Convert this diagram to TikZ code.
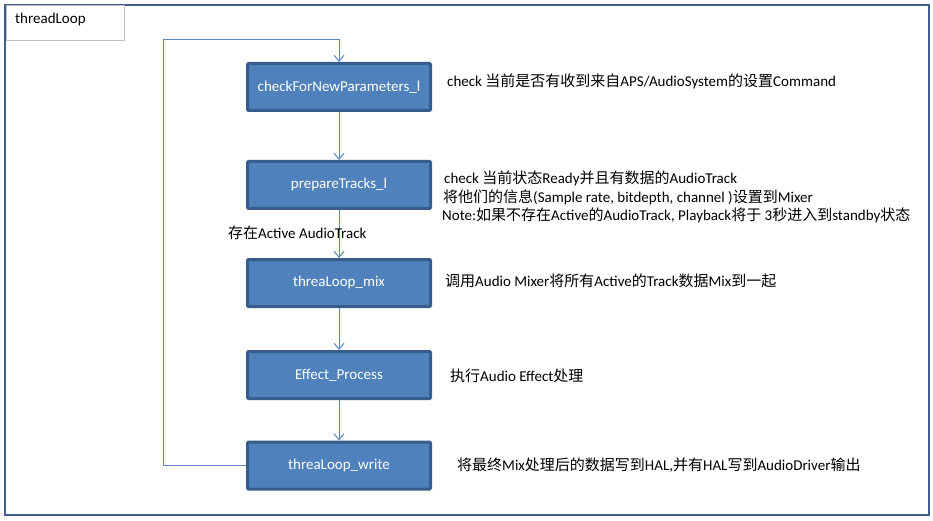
\documentclass[tikz,border=0pt]{standalone}
\usepackage{fontspec}
\setmainfont{Carlito}
\newfontfamily\cjk{Noto Sans CJK SC}
\newcommand\zh[1]{{\cjk #1}}
\usetikzlibrary{arrows.meta}
\definecolor{frame}{HTML}{3F5E8E}
\definecolor{boxfill}{HTML}{4F81BD}
\definecolor{boxline}{HTML}{385D8A}
\definecolor{conn}{HTML}{5B86C0}
\definecolor{lblline}{HTML}{BFBFBF}
\tikzset{
  stepbox/.style={draw=boxline, line width=3pt, fill=boxfill, text=white,
    minimum width=183pt, minimum height=47pt, inner sep=0pt,
    font=\fontsize{15}{18}\selectfont, rounded corners=1pt},
  note/.style={anchor=west, inner sep=0pt, text=black, font=\fontsize{15}{18}\selectfont},
  conline/.style={draw=conn, line width=1pt},
  arr/.style={conline, -{Straight Barb[length=6pt,width=10pt,line width=1pt]}},
}
\begin{document}
\begin{tikzpicture}[x=1pt,y=-1pt]
\useasboundingbox (0,0) rectangle (933,521);
\fill[white] (0,0) rectangle (933,521);
\draw[frame, line width=2.5pt] (5,5) rectangle (929,515);
\draw[lblline, line width=1pt] (6,6) rectangle (124,41);
\node[note, anchor=base west] (title) at (15,24) {threadLoop};

\node[stepbox] (b1) at (339,87) {checkForNewParameters\_l};
\node[stepbox] (b2) at (339,185) {prepareTracks\_l};
\node[stepbox] (b3) at (339,283) {threaLoop\_mix};
\node[stepbox] (b4) at (339,375) {Effect\_Process};
\node[stepbox] (b5) at (339,465.5) {threaLoop\_write};

\draw[arr] (b1.south) -- (b2.north);
\draw[arr] (b2.south) -- (b3.north);
\draw[arr] (b3.south) -- (b4.north);
\draw[arr] (b4.south) -- (b5.north);
\coordinate (lc) at (163,40);
\draw[arr] (b5.west) -| (lc) -| (b1.north);

\node[note] (t1) at (447,81) {check \zh{当前是否有收到来自}APS/AudioSystem\zh{的设置}Command};
\node[note] (t2a) at (444,178) {check \zh{当前状态}Ready\zh{并且有数据的}AudioTrack};
\node[note] (t2b) at (443,197) {\zh{将他们的信息}(Sample rate, bitdepth, channel )\zh{设置到}Mixer};
\node[note] (t2c) at (442,215) {Note:\zh{如果不存在}Active\zh{的}AudioTrack, Playback\zh{将于} 3\zh{秒进入到}standby\zh{状态}};
\node[note] (lbl) at (228,233) {\zh{存在}Active AudioTrack};
\node[note] (t3) at (445,281) {\zh{调用}Audio Mixer\zh{将所有}Active\zh{的}Track\zh{数据}Mix\zh{到一起}};
\node[note] (t4) at (450,376) {\zh{执行}Audio Effect\zh{处理}};
\node[note] (t5) at (457,465) {\zh{将最终}Mix\zh{处理后的数据写到}HAL,\zh{并有}HAL\zh{写到}AudioDriver\zh{输出}};
\end{tikzpicture}
\end{document}
